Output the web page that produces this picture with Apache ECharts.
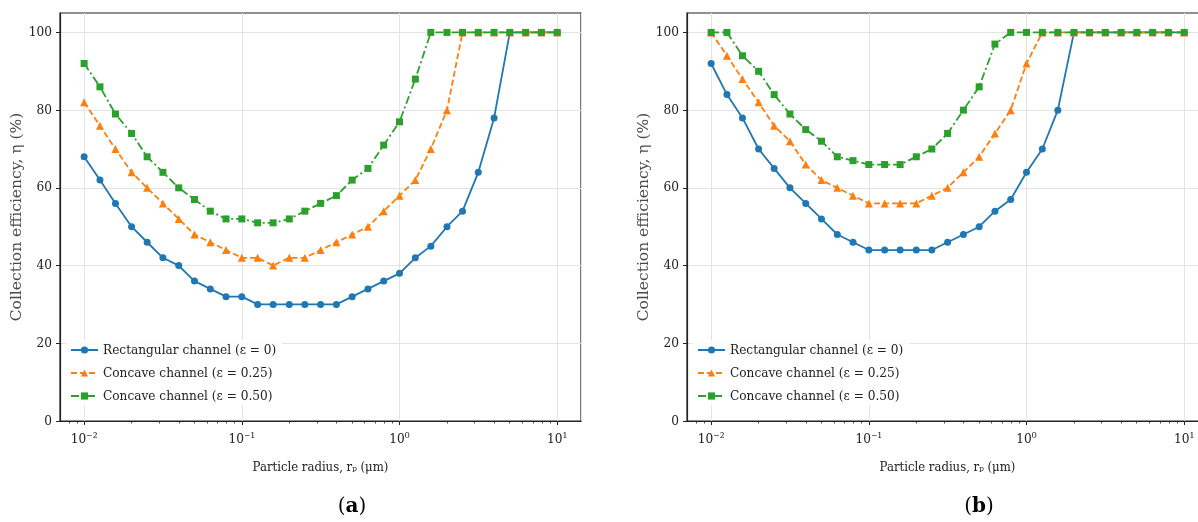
<!DOCTYPE html>
<html>
<head>
<meta charset="utf-8">
<script src="https://cdn.jsdelivr.net/npm/echarts@6/dist/echarts.min.js"></script>
<style>
  html, body { margin: 0; padding: 0; background: #ffffff; }
  #chart { width: 1198px; height: 522px; }
</style>
</head>
<body>
<div id="chart"></div>
<script>
// Particle radius (µm), log-spaced sample points
const radius = [
  0.01, 0.0126, 0.0158, 0.02, 0.0251, 0.0316, 0.0398, 0.0501, 0.0631, 0.0794,
  0.1, 0.126, 0.158, 0.2, 0.251, 0.316, 0.398, 0.501, 0.631, 0.794,
  1, 1.26, 1.58, 2, 2.51, 3.16, 3.98, 5.01, 6.31, 7.94, 10
];

// Panel (a): collection efficiency (%)
const rectA  = [68, 62, 56, 50, 46, 42, 40, 36, 34, 32, 32, 30, 30, 30, 30, 30, 30, 32, 34, 36, 38, 42, 45, 50, 54, 64, 78, 100, 100, 100, 100];
const con25A = [82, 76, 70, 64, 60, 56, 52, 48, 46, 44, 42, 42, 40, 42, 42, 44, 46, 48, 50, 54, 58, 62, 70, 80, 100, 100, 100, 100, 100, 100, 100];
const con50A = [92, 86, 79, 74, 68, 64, 60, 57, 54, 52, 52, 51, 51, 52, 54, 56, 58, 62, 65, 71, 77, 88, 100, 100, 100, 100, 100, 100, 100, 100, 100];

// Panel (b): collection efficiency (%)
const rectB  = [92, 84, 78, 70, 65, 60, 56, 52, 48, 46, 44, 44, 44, 44, 44, 46, 48, 50, 54, 57, 64, 70, 80, 100, 100, 100, 100, 100, 100, 100, 100];
const con25B = [100, 94, 88, 82, 76, 72, 66, 62, 60, 58, 56, 56, 56, 56, 58, 60, 64, 68, 74, 80, 92, 100, 100, 100, 100, 100, 100, 100, 100, 100, 100];
const con50B = [100, 100, 94, 90, 84, 79, 75, 72, 68, 67, 66, 66, 66, 68, 70, 74, 80, 86, 97, 100, 100, 100, 100, 100, 100, 100, 100, 100, 100, 100, 100];

const seriesNames = ['Rectangular channel (ε = 0)', 'Concave channel (ε = 0.25)', 'Concave channel (ε = 0.50)'];
const panelLabels = ['a', 'b'];
const yTickValues = [0, 20, 40, 60, 80, 100];
const minorTickValues = [
  0.008, 0.009,
  0.02, 0.03, 0.04, 0.05, 0.06, 0.07, 0.08, 0.09,
  0.2, 0.3, 0.4, 0.5, 0.6, 0.7, 0.8, 0.9,
  2, 3, 4, 5, 6, 7, 8, 9
];
const xAxisTitle = 'Particle radius, rₚ (μm)';
const yAxisTitle = 'Collection efficiency, η (%)';

const COLORS = ['#1f77b4', '#ff7f0e', '#2ca02c'];
const SYMBOLS = ['circle', 'triangle', 'rect'];
const SYMBOL_SIZES = [7, 8, 7];
const LINE_TYPES = ['solid', [6, 3], [8, 3, 2, 3]];
const FONT = "'DejaVu Serif Condensed', 'DejaVu Serif', serif";
const INK = '#222222';

const X_MIN = 0.00703, X_MAX = 14.16;

const SUP = { '-': '⁻', '0': '⁰', '1': '¹', '2': '²', '3': '³', '4': '⁴', '5': '⁵', '6': '⁶', '7': '⁷', '8': '⁸', '9': '⁹' };
function powerLabel(v) {
  const e = Math.round(Math.log10(v));
  return '10' + String(e).split('').map(c => SUP[c]).join('');
}

const panels = [
  { left: 60, legendLeft: 66, label: 352, data: [rectA, con25A, con50A] },
  { left: 687, legendLeft: 693, label: 979, data: [rectB, con25B, con50B] }
];

const grid = [], xAxis = [], yAxis = [], series = [], legend = [], graphic = [];

panels.forEach((p, i) => {
  grid.push({
    left: p.left, top: 13, width: 521, height: 408,
    show: true, borderColor: INK, borderWidth: 1.2, backgroundColor: 'transparent',
    outerBoundsMode: 'none', containLabel: false
  });

  // main log axis with decade labels
  xAxis.push({
    type: 'log', logBase: 10, gridIndex: i, position: 'bottom',
    min: X_MIN, max: X_MAX,
    name: xAxisTitle, nameLocation: 'middle', nameGap: 40,
    nameTextStyle: { fontFamily: FONT, fontSize: 13, color: INK },
    axisLine: { show: true, lineStyle: { color: INK, width: 1.2 } },
    axisTick: { show: true, length: 4, lineStyle: { color: INK, width: 1 } },
    minorTick: { show: false },
    axisLabel: {
      showMinLabel: false, showMaxLabel: false, margin: 11,
      fontFamily: FONT, fontSize: 13.5, color: INK,
      formatter: powerLabel
    },
    splitLine: { show: true, lineStyle: { color: '#e4e4e4', width: 1 } }
  });
  // companion axis carrying the minor ticks between decades
  xAxis.push({
    type: 'log', logBase: 10, gridIndex: i, position: 'bottom',
    min: X_MIN, max: X_MAX,
    axisLine: { show: false },
    axisTick: { show: true, length: 2.5, customValues: minorTickValues, lineStyle: { color: INK, width: 0.8 } },
    axisLabel: { show: false },
    splitLine: { show: false }
  });

  yAxis.push({
    type: 'value', gridIndex: i, min: 0, max: 105, interval: 20,
    name: yAxisTitle, nameLocation: 'middle', nameGap: 34,
    nameTextStyle: { fontFamily: "'DejaVu Serif', serif", fontSize: 15.5, color: '#4a4a4a' },
    axisLine: { show: true, lineStyle: { color: INK, width: 1.2 } },
    axisTick: { show: true, length: 4, customValues: yTickValues, lineStyle: { color: INK, width: 1 } },
    axisLabel: { customValues: yTickValues, margin: 8, fontFamily: FONT, fontSize: 13.5, color: INK },
    splitLine: { show: true, lineStyle: { color: '#e4e4e4', width: 1 } }
  });

  p.data.forEach((vals, s) => {
    series.push({
      type: 'line', name: seriesNames[s],
      xAxisIndex: i * 2, yAxisIndex: i,
      data: radius.map((r, k) => [r, vals[k]]),
      symbol: SYMBOLS[s], symbolSize: SYMBOL_SIZES[s], showSymbol: true, showAllSymbol: true,
      lineStyle: { color: COLORS[s], width: 1.8, type: LINE_TYPES[s] },
      itemStyle: { color: COLORS[s] },
      emphasis: { disabled: true },
      z: 2 + s
    });
  });

  legend.push({
    orient: 'vertical', left: p.legendLeft, top: 340,
    data: seriesNames, itemWidth: 27, itemHeight: 9, itemGap: 9,
    padding: [3, 6, 3, 4],
    backgroundColor: 'rgba(255,255,255,0.8)',
    textStyle: { fontFamily: FONT, fontSize: 13.5, color: INK }
  });

  graphic.push({
    type: 'text', x: p.label, y: 507,
    style: {
      text: '{p|(}{b|' + panelLabels[i] + '}{p|)}',
      align: 'center', verticalAlign: 'middle',
      rich: {
        p: { fontFamily: "'DejaVu Serif', serif", fontSize: 20, color: '#111' },
        b: { fontFamily: "'DejaVu Serif', serif", fontSize: 20, fontWeight: 'bold', color: '#111' }
      }
    }
  });
});

const chart = echarts.init(document.getElementById('chart'), null, { renderer: 'canvas' });
chart.setOption({
  animation: false,
  backgroundColor: '#ffffff',
  grid, xAxis, yAxis, series, legend, graphic
});
</script>
</body>
</html>
